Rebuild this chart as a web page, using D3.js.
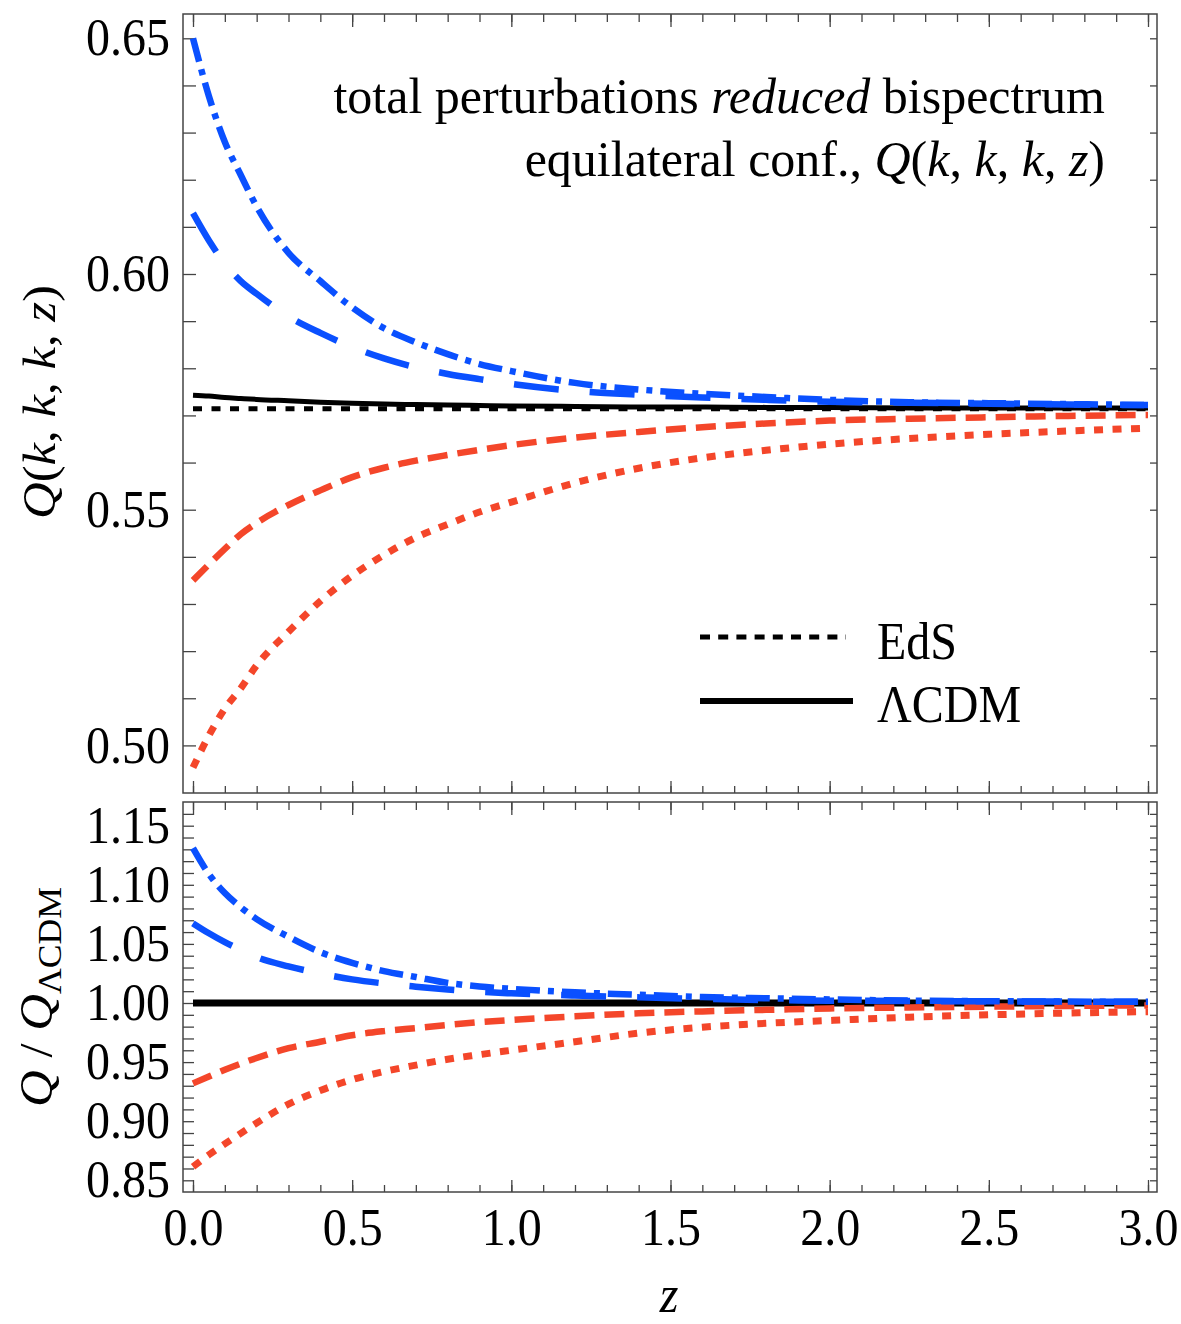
<!DOCTYPE html>
<html><head><meta charset="utf-8">
<script src="https://cdn.jsdelivr.net/npm/d3@7"></script>
<style>
body{margin:0;background:#fff}
svg{display:block}
text{font-family:"Liberation Serif","Times New Roman",serif;fill:#000}
</style>
</head><body><script>
// ---------------- data ----------------
const zVals = [0,0.05,0.1,0.15,0.2,0.3,0.4,0.5,0.6,0.7,0.8,0.9,1.0,1.2,1.4,1.6,1.8,2.0,2.25,2.5,2.75,3.0];

// upper panel: Q(k,k,k,z)
const qBlueDotDash = [0.6500,0.6377,0.6280,0.6210,0.6143,0.6045,0.5985,0.5929,0.5885,0.5855,0.5830,0.5809,0.5794,0.5769,0.5755,0.5746,0.5739,0.5733,0.5728,0.5726,0.5724,0.5722];
const qBlueDashed  = [0.6129,0.6071,0.6022,0.5985,0.5958,0.5910,0.5875,0.5845,0.5821,0.5802,0.5788,0.5777,0.5767,0.5752,0.5744,0.5738,0.5733,0.5729,0.5727,0.5725,0.5723,0.5722];
const qLCDM        = [0.5743,0.5741,0.5738,0.5736,0.5734,0.5731,0.5728,0.5726,0.5724,0.5723,0.5722,0.5721,0.5720,0.5719,0.5718,0.5718,0.5717,0.5717,0.5716,0.5716,0.5716,0.5716];
const qEdS         = [0.5714,0.5714,0.5714,0.5714,0.5714,0.5714,0.5714,0.5714,0.5714,0.5714,0.5714,0.5714,0.5714,0.5714,0.5714,0.5714,0.5714,0.5714,0.5714,0.5714,0.5714,0.5714];
const qRedDashed   = [0.5350,0.5384,0.5417,0.5448,0.5472,0.5510,0.5541,0.5569,0.5589,0.5604,0.5616,0.5627,0.5637,0.5653,0.5665,0.5675,0.5683,0.5689,0.5693,0.5696,0.5699,0.5701];
const qRedDotted   = [0.4953,0.5021,0.5078,0.5121,0.5170,0.5241,0.5306,0.5360,0.5404,0.5441,0.5469,0.5495,0.5516,0.5557,0.5588,0.5610,0.5626,0.5639,0.5651,0.5660,0.5667,0.5673];

// lower panel: Q / Q_LCDM
const rBlueDotDash = [1.131,1.109,1.093,1.081,1.071,1.056,1.043,1.034,1.027,1.022,1.017,1.014,1.012,1.009,1.007,1.005,1.004,1.003,1.002,1.0015,1.0012,1.001];
const rBlueDashed  = [1.0674,1.059,1.0515,1.045,1.0388,1.031,1.025,1.020,1.0165,1.0138,1.0114,1.0095,1.0082,1.0063,1.0048,1.0035,1.0025,1.0020,1.0017,1.0014,1.0012,1.0010];
const rLCDM        = [1,1,1,1,1,1,1,1,1,1,1,1,1,1,1,1,1,1,1,1,1,1];
const rRedDashed   = [0.932,0.9378,0.9435,0.9487,0.9535,0.9618,0.9672,0.9727,0.9762,0.9788,0.9814,0.9838,0.9856,0.9887,0.9913,0.9929,0.9942,0.9954,0.9962,0.9969,0.9975,0.9980];
const rRedDotted   = [0.8615,0.8716,0.8808,0.8897,0.8985,0.9144,0.9260,0.9352,0.9420,0.9474,0.9524,0.9563,0.9600,0.9672,0.9745,0.9795,0.9828,0.9852,0.9880,0.9900,0.9915,0.9927];

const xTickLabels = ["0.0","0.5","1.0","1.5","2.0","2.5","3.0"];
const xMajorTicks = [0,0.5,1.0,1.5,2.0,2.5,3.0];
const yTopTickLabels = ["0.50","0.55","0.60","0.65"];
const yTopMajorTicks = [0.50,0.55,0.60,0.65];
const yBotTickLabels = ["0.85","0.90","0.95","1.00","1.05","1.10","1.15"];
const yBotMajorTicks = [0.85,0.90,0.95,1.00,1.05,1.10,1.15];

const legendLabels = ["EdS","ΛCDM"];

// ---------------- layout ----------------
const W = 1181, H = 1324;
const STRETCH = 1.08;
const BLUE = "#0a50ff", RED = "#f4462a";
const frameL = 183, frameR = 1157;
const pTop = {y0:14, y1:793}, pBot = {y0:802, y1:1192};

const svg = d3.select("body").append("svg").attr("width", W).attr("height", H);

const x  = d3.scaleLinear().domain([0,3]).range([193,1148]);
const yT = d3.scaleLinear().domain([0.50,0.65]).range([745.4,38.3]);
const yB = d3.scaleLinear().domain([0.85,1.15]).range([1180.3,825.7]);

const minorX = d3.range(0,31).map(i=>i/10);
const yTopMinor = d3.range(50,66).map(i=>i/100);
const yBotMinor = d3.range(85,117).map(i=>i/100);

const defs = svg.append("defs");
[["clipTop",pTop],["clipBot",pBot]].forEach(([id,p])=>{
  defs.append("clipPath").attr("id",id).append("rect")
    .attr("x",frameL).attr("y",p.y0).attr("width",frameR-frameL).attr("height",p.y1-p.y0);
});

function tickAxis(g, axis){
  g.call(axis);
  g.select(".domain").remove();
  g.selectAll("line").attr("stroke","#444").attr("stroke-width",1.3);
  return g;
}

function panelTicks(p, yScale, yMinor, leftLen, rightLen){
  tickAxis(svg.append("g").attr("transform",`translate(0,${p.y1})`),
    d3.axisBottom(x).tickValues(minorX).tickSize(-7).tickFormat(""));
  tickAxis(svg.append("g").attr("transform",`translate(0,${p.y1})`),
    d3.axisBottom(x).tickValues(xMajorTicks).tickSize(-12).tickFormat(""));
  tickAxis(svg.append("g").attr("transform",`translate(0,${p.y0})`),
    d3.axisTop(x).tickValues(minorX).tickSize(-8).tickFormat(""));
  tickAxis(svg.append("g").attr("transform",`translate(0,${p.y0})`),
    d3.axisTop(x).tickValues(xMajorTicks).tickSize(-13).tickFormat(""));
  tickAxis(svg.append("g").attr("transform",`translate(${frameL},0)`),
    d3.axisLeft(yScale).tickValues(yMinor).tickSize(-leftLen).tickFormat(""));
  tickAxis(svg.append("g").attr("transform",`translate(${frameR},0)`),
    d3.axisRight(yScale).tickValues(yMinor).tickSize(-rightLen).tickFormat(""));
  svg.append("rect").attr("x",frameL).attr("y",p.y0)
    .attr("width",frameR-frameL).attr("height",p.y1-p.y0)
    .attr("fill","none").attr("stroke","#444").attr("stroke-width",1.5);
}

panelTicks(pTop, yT, yTopMinor, 13, 7);
panelTicks(pBot, yB, yBotMinor, 11, 7);

function labelAxis(g, axis){
  g.call(axis);
  g.select(".domain").remove();
  g.selectAll("line").remove();
  g.selectAll("text").attr("font-family",'"Liberation Serif", serif').attr("font-size",48)
    .attr("fill","#000").attr("transform",`scale(1,${STRETCH})`);
  return g;
}
labelAxis(svg.append("g").attr("transform",`translate(${frameL},0)`),
  d3.axisLeft(yT).tickValues(yTopMajorTicks).tickSize(0).tickPadding(13)
    .tickFormat((d,i)=>yTopTickLabels[i]));
labelAxis(svg.append("g").attr("transform",`translate(${frameL},0)`),
  d3.axisLeft(yB).tickValues(yBotMajorTicks).tickSize(0).tickPadding(13)
    .tickFormat((d,i)=>yBotTickLabels[i]));
labelAxis(svg.append("g").attr("transform",`translate(0,${pBot.y1})`),
  d3.axisBottom(x).tickValues(xMajorTicks).tickSize(0).tickPadding(15)
    .tickFormat((d,i)=>xTickLabels[i]));

// ---------------- series ----------------
const styles = {
  blueDotDash: {color:BLUE, w:6.5, dash:"24,8,6,8"},
  blueDashed:  {color:BLUE, w:6.5, dash:"45,31"},
  lcdm:        {color:"#000", w:5, dash:null},
  lcdmBot:     {color:"#000", w:7, dash:null},
  eds:         {color:"#000", w:5, dash:"9,9.5"},
  redDashed:   {color:RED, w:6.5, dash:"20,10"},
  redDotted:   {color:RED, w:7, dash:"9,9.5"}
};

function drawSeries(clip, yScale, vals, st){
  const line = d3.line().x((d,i)=>x(zVals[i])).y(d=>yScale(d)).curve(d3.curveMonotoneX);
  svg.append("path").attr("clip-path",`url(#${clip})`)
    .datum(vals).attr("d",line)
    .attr("fill","none").attr("stroke",st.color).attr("stroke-width",st.w)
    .attr("stroke-dasharray",st.dash).attr("stroke-linecap","butt").attr("stroke-linejoin","round");
}

drawSeries("clipTop", yT, qEdS, styles.eds);
drawSeries("clipTop", yT, qLCDM, styles.lcdm);
drawSeries("clipTop", yT, qRedDotted, styles.redDotted);
drawSeries("clipTop", yT, qRedDashed, styles.redDashed);
drawSeries("clipTop", yT, qBlueDashed, styles.blueDashed);
drawSeries("clipTop", yT, qBlueDotDash, styles.blueDotDash);

drawSeries("clipBot", yB, rLCDM, styles.lcdmBot);
drawSeries("clipBot", yB, rRedDotted, styles.redDotted);
drawSeries("clipBot", yB, rRedDashed, styles.redDashed);
drawSeries("clipBot", yB, rBlueDashed, styles.blueDashed);
drawSeries("clipBot", yB, rBlueDotDash, styles.blueDotDash);

// ---------------- legend ----------------
const leg = svg.append("g");
leg.append("line").attr("x1",700).attr("x2",846).attr("y1",637).attr("y2",637)
  .attr("stroke","#000").attr("stroke-width",5).attr("stroke-dasharray","10,8.2");
leg.append("line").attr("x1",700).attr("x2",853).attr("y1",701).attr("y2",701)
  .attr("stroke","#000").attr("stroke-width",6);
legendLabels.forEach((t,i)=>{
  leg.append("g").attr("transform",`translate(877,${659+i*63}) scale(1,${STRETCH})`)
    .append("text").attr("font-size",48).text(t);
});

// ---------------- texts ----------------
function richText(parent, parts, size, anchor){
  const t = parent.append("text").attr("font-size",size).attr("text-anchor",anchor);
  parts.forEach(p=>{
    const ts = t.append("tspan").text(p.t);
    if (p.i) ts.attr("font-style","italic");
    if (p.s) ts.attr("font-size",p.s);
    if (p.dy) ts.attr("dy",p.dy);
  });
  return t;
}

// title
richText(svg.append("g").attr("transform",`translate(1105,113)`),
  [{t:"total perturbations "},{t:"reduced",i:1},{t:" bispectrum"}], 50, "end");
richText(svg.append("g").attr("transform",`translate(1105,176)`),
  [{t:"equilateral conf., "},{t:"Q",i:1},{t:"("},{t:"k",i:1},{t:", "},{t:"k",i:1},{t:", "},{t:"k",i:1},{t:", "},{t:"z",i:1},{t:")"}], 50, "end");

// y labels
richText(svg.append("g").attr("transform",`translate(55,402) rotate(-90) scale(${STRETCH},1)`),
  [{t:"Q",i:1},{t:"("},{t:"k",i:1},{t:", "},{t:"k",i:1},{t:", "},{t:"k",i:1},{t:", "},{t:"z",i:1},{t:")"}], 47, "middle");
richText(svg.append("g").attr("transform",`translate(52,997) rotate(-90) scale(${STRETCH},1)`),
  [{t:"Q",i:1},{t:" / "},{t:"Q",i:1},{t:"ΛCDM",s:33,dy:9}], 47, "middle");

// x label
richText(svg.append("g").attr("transform",`translate(669,1312) scale(1,${STRETCH})`),
  [{t:"z",i:1}], 48, "middle");
</script></body></html>
